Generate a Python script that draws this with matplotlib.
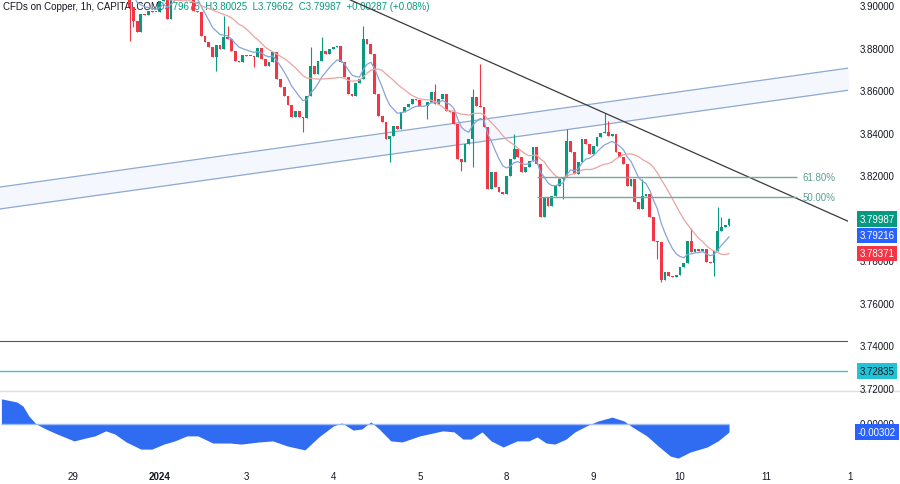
import matplotlib
matplotlib.use("Agg")
import matplotlib.pyplot as plt
import matplotlib.transforms as mtrans
from matplotlib.lines import Line2D
import numpy as np
import pandas as pd

plt.rcParams['font.family'] = ['Liberation Sans', 'DejaVu Sans']

# hourly closes, CFDs on Copper (the first bars are above the visible range)
closes = [
    3.9450, 3.9480, 3.9440, 3.9400, 3.9420, 3.9380, 3.9350, 3.9300, 3.9260, 3.9280,
    3.9240, 3.9200, 3.9220, 3.9250, 3.9210, 3.9180, 3.9150, 3.9170, 3.9200, 3.9180,
    3.9150, 3.9120, 3.9140, 3.9160, 3.9130, 3.9100, 3.9120, 3.9150, 3.9130, 3.9100,
    3.9080, 3.9110, 3.9090, 3.9060,
    3.8995, 3.8930, 3.8878, 3.8962, 3.8960, 3.8977, 3.8972, 3.8971, 3.9024, 3.9071,
    3.8939, 3.9057, 3.9100, 3.9120, 3.9090, 3.9110, 3.9080, 3.8977, 3.8972,
    3.8859, 3.8831, 3.8807, 3.8760, 3.8817, 3.8798, 3.8854, 3.8845, 3.8789, 3.8742,
    3.8737, 3.8770, 3.8766, 3.8765, 3.8760, 3.8803, 3.8751, 3.8718,
    3.8737, 3.8784, 3.8657, 3.8619, 3.8577, 3.8535, 3.8478, 3.8507, 3.8478, 3.8475,
    3.8577, 3.8718, 3.8681, 3.8742, 3.8789, 3.8775, 3.8798, 3.8807, 3.8812, 3.8737,
    3.8666, 3.8587, 3.8577, 3.8638, 3.8657, 3.8845,
    3.8822, 3.8775, 3.8587, 3.8483, 3.8455, 3.8375, 3.8389, 3.8436, 3.8422, 3.8502,
    3.8525, 3.8540, 3.8563, 3.8560, 3.8530, 3.8528, 3.8549, 3.8596, 3.8540, 3.8563,
    3.8587, 3.8507, 3.8502, 3.8446, 3.8281, 3.8267,
    3.8352, 3.8375, 3.8572, 3.8530, 3.8525, 3.8431, 3.8140, 3.8220, 3.8149, 3.8126,
    3.8116, 3.8201, 3.8281, 3.8328, 3.8290, 3.8220, 3.8243, 3.8272, 3.8337, 3.8258,
    3.8008, 3.8102, 3.8060, 3.8107, 3.8154, 3.8187,
    3.8197, 3.8366, 3.8314, 3.8211, 3.8267, 3.8375, 3.8352, 3.8305, 3.8342, 3.8385,
    3.8403, 3.8408, 3.8389, 3.8398, 3.8314, 3.8290, 3.8258, 3.8154, 3.8187, 3.8079,
    3.8046, 3.8107, 3.8116, 3.8008, 3.7896, 3.7891,
    3.7712, 3.7750, 3.7731, 3.7726, 3.7736, 3.7773, 3.7792, 3.7896, 3.7844, 3.7858,
    3.7849, 3.7858, 3.7797, 3.7792, 3.7849, 3.7943, 3.7962, 3.7970, 3.79987,
]
first_open = 3.9440

# wicks that stick out clearly (bar index: price)
high_marks = {59: 3.8953, 60: 3.8906, 82: 3.8807, 85: 3.8854, 96: 3.8906,
              115: 3.8634, 125: 3.8610, 127: 3.8728, 136: 3.8398, 150: 3.8422,
              160: 3.8497, 161: 3.8460, 170: 3.8187, 183: 3.7957, 190: 3.8055,
              191: 3.8008, 193: 3.80025}
low_marks = {34: 3.8836, 35: 3.8901, 57: 3.8695, 67: 3.8713, 80: 3.8408,
             103: 3.8267, 113: 3.8469, 122: 3.8225, 125: 3.8243, 149: 3.8093,
             174: 3.7811, 175: 3.7703, 189: 3.7731, 193: 3.79662}

ema_len = 9
sma_len = 20

# lower pane oscillator (bar index, value)
osc_idx = [0, 4.1, 5.7, 7.3, 9.2, 11.8, 14.8, 19.3, 22.4, 24.8,
           27.7, 30.1, 33.1, 37.0, 39.9, 43.1, 46.0, 49.2, 52.1, 56.1,
           60.6, 63.6, 68.3, 72.0, 75.8, 80.5, 84.2, 88.0, 90.3, 93.3,
           95.6, 98.0, 100.2, 103.3, 106.3, 111.0, 117.1, 120.1, 122.4, 124.6,
           127.5, 129.9, 133.1, 136.8, 139.9, 142.1, 144.5, 146.8, 149.8, 152.1,
           155.1, 158.2, 162.0, 165.2, 167.3, 171.2, 174.2, 177.4, 179.5, 182.7,
           187.2, 190.1, 193.0]
osc_val = [0.0095, 0.0083, 0.0068, 0.0030, 0.0, -0.0019, -0.0038, -0.0064, -0.0053, -0.0045,
           -0.0026, -0.0038, -0.0068, -0.0095, -0.0095, -0.0076, -0.0064, -0.0045, -0.0045, -0.0072,
           -0.0072, -0.0076, -0.0068, -0.0064, -0.0083, -0.0098, -0.0049, -0.0008, 0.0004, -0.0023,
           -0.0019, 0.0008, -0.0019, -0.0064, -0.0068, -0.0045, -0.0026, -0.0030, -0.0057, -0.0057,
           -0.0030, -0.0064, -0.0087, -0.0064, -0.0064, -0.0049, -0.0072, -0.0076, -0.0057, -0.0030,
           -0.0008, 0.0011, 0.0026, 0.0011, -0.0011, -0.0045, -0.0083, -0.0121, -0.0129, -0.0106,
           -0.0087, -0.0064, -0.00302]

day_idx = [19, 42, 65, 88, 111, 134, 157, 180, 203, 225]
day_labels = ["29", "2024", "3", "4", "5", "8", "9", "10", "11", "1"]
price_ticks = [3.90, 3.88, 3.86, 3.84, 3.82, 3.80, 3.78, 3.76, 3.74, 3.72]

# drawings on the chart
channel_top = [(0, 3.8150), (225, 3.8709)]
channel_bot = [(0, 3.8047), (225, 3.8605)]
trend_pts = [(92, 3.9033), (225, 3.7985)]
fib_levels = [("61.80%", 3.8197), ("50.00%", 3.8103)]
fib_span = (142, 211)
hline_gray = 3.7426
hline_cyan = 3.72835

# right scale tags
tag_last = 3.79987
tag_ema = 3.79216
tag_sma = 3.78371
tag_osc = -0.00302

title = "CFDs on Copper, 1h, CAPITALCOM"
ohlc = "O3.79675  H3.80025  L3.79662  C3.79987  +0.00287 (+0.08%)"

GREEN = "#089981"
RED = "#f23645"
BLUE = "#2962ff"
TXT = "#131722"

fig = plt.figure(figsize=(9, 4.85), dpi=100)
ax = fig.add_axes([0, 0.1938, 0.9422, 0.8062])
ax2 = fig.add_axes([0, 0.0454, 0.9422, 0.1464])
for a in (ax, ax2):
    a.set_xlim(-0.37, 224.56)
    a.axis("off")
ax.set_ylim(3.7195, 3.9033)
ax2.set_ylim(-0.01436, 0.01247)

# channel
def line_at(pts, xs):
    (x0, y0), (x1, y1) = pts
    return y0 + (y1 - y0) * (np.asarray(xs) - x0) / (x1 - x0)

xs = np.array([-1, 226])
ax.fill_between(xs, line_at(channel_bot, xs), line_at(channel_top, xs),
                color="#f4f7fd", lw=0, zorder=1)
ax.plot(xs, line_at(channel_top, xs), color="#8ea8d2", lw=0.9, zorder=2)
ax.plot(xs, line_at(channel_bot, xs), color="#8ea8d2", lw=0.9, zorder=2)

# candles
c = np.array(closes)
o = np.array([first_open] + closes[:-1])
h = np.maximum(o, c)
l = np.minimum(o, c)
for k, v in high_marks.items():
    h[k] = max(h[k], v)
for k, v in low_marks.items():
    l[k] = min(l[k], v)
x = np.arange(len(c))
col = np.where(c >= o, GREEN, RED)
ax.vlines(x, l, h, colors=col, lw=0.8, zorder=3)
ax.bar(x, np.maximum(np.abs(c - o), 0.00035), bottom=np.minimum(o, c),
       width=0.74, color=col, lw=0, zorder=4)

# moving averages
s = pd.Series(closes)
ax.plot(x, s.ewm(span=ema_len, adjust=False).mean(), color="#86a4d8", lw=0.9, zorder=5)
ax.plot(x, s.rolling(sma_len).mean(), color="#eba3a3", lw=0.9, zorder=5)

# trend line, fib, horizontal levels
ax.axline(trend_pts[0], trend_pts[1], color="#3a3a3a", lw=0.9, zorder=6)
for name, lev in fib_levels:
    ax.hlines(lev, fib_span[0], fib_span[1], color="#72aaa2", lw=1, zorder=6)
    ax.text(fib_span[1] + 1.5, lev, name, color="#5a9e94", fontsize=7,
            va="center", ha="left", zorder=6)
ax.axhline(hline_gray, color="#555555", lw=0.8, zorder=2)
ax.axhline(hline_cyan, color="#3fc1d0", lw=1, zorder=2)

# header
ax.text(3 / 848, 1 - 7 / 391, title, transform=ax.transAxes, fontsize=7,
        color=TXT, va="center", ha="left", zorder=2)
ax.text(157 / 848, 1 - 7 / 391, ohlc, transform=ax.transAxes, fontsize=7,
        color=GREEN, va="center", ha="left", zorder=2)

# oscillator
ax2.fill_between(osc_idx, osc_val, 0, color="#2f6cf2", lw=0, zorder=2)
ax2.hlines(0, osc_idx[0], osc_idx[-1], color="#9dbbf7", lw=1, zorder=3)

# right price scale
tr_main = mtrans.blended_transform_factory(fig.transFigure, ax.transData)
tr_osc = mtrans.blended_transform_factory(fig.transFigure, ax2.transData)
for p in price_ticks:
    fig.text(877 / 900, p, f"{p:.5f}", transform=tr_main, fontsize=7,
             color=TXT, ha="center", va="center", zorder=3)
fig.text(877 / 900, 0, "0.00000", transform=tr_osc, fontsize=7,
         color=TXT, ha="center", va="center", zorder=3)

def tag(val, tr, fc, tc="white"):
    fig.text(877 / 900, val, f"{val:.5f}", transform=tr, fontsize=7, color=tc,
             ha="center", va="center", zorder=6,
             bbox=dict(boxstyle="square,pad=0.28", fc=fc, ec="none"))

tag(tag_last, tr_main, GREEN)
tag(tag_ema, tr_main, BLUE)
tag(tag_sma, tr_main, RED)
tag(hline_cyan, tr_main, "#22c3d6", TXT)
tag(tag_osc, tr_osc, BLUE)

# pane separator
fig.add_artist(Line2D([0, 1], [1 - 392 / 485] * 2, color="#dcdfe6", lw=1))

# date axis
tr_date = mtrans.blended_transform_factory(ax2.transData, fig.transFigure)
for d, lab in zip(day_idx, day_labels):
    fig.text(d, 1 - 477 / 485, lab, transform=tr_date, fontsize=7, color=TXT,
             ha="center", va="center",
             fontweight="bold" if lab == "2024" else "normal")

fig.savefig("out.png", dpi=100, facecolor="white")
